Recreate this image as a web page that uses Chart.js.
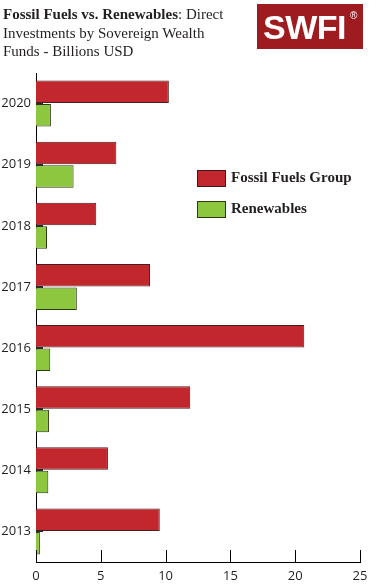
<!DOCTYPE html>
<html>
<head>
<meta charset="utf-8">
<script src="https://cdn.jsdelivr.net/npm/chart.js@4"></script>
<style>
  html, body { margin:0; padding:0; background:#fff; }
  #wrap { position:relative; width:377px; height:586px; overflow:hidden; }
  #chart { position:absolute; left:0; top:0; }
  #title { position:absolute; left:3px; top:5px; width:222px; font-family:"Liberation Serif", serif; font-size:15px; line-height:18.5px; color:#231f20; }
  #logo { position:absolute; left:257px; top:4px; width:106px; height:45px; background:#9e1b20; }
  #logo span.t { position:absolute; left:6px; top:4px; font-family:"Liberation Sans", Arial, sans-serif; font-weight:bold; font-size:34px; line-height:38px; color:#fff; letter-spacing:-0.5px; }
  #logo span.r { position:absolute; left:93px; top:6px; font-family:"Liberation Sans", Arial, sans-serif; font-size:10px; color:#fff; }
  .leg { position:absolute; left:197px; font-family:"Liberation Serif", serif; font-weight:bold; font-size:15px; color:#231f20; }
  .leg i { position:absolute; left:0; top:0; width:27px; height:15px; border:1px solid #3a1a1a; }
  .leg span { position:absolute; left:34px; top:-1px; white-space:nowrap; }
</style>
</head>
<body>
<div id="wrap">
  <canvas id="chart" width="377" height="586"></canvas>
  <div id="title"><b>Fossil Fuels vs. Renewables</b>: Direct Investments by Sovereign Wealth Funds - Billions USD</div>
  <div id="logo"><span class="t">SWFI</span><span class="r">®</span></div>
  <div class="leg" style="top:170px"><i style="background:#c1272d"></i><span>Fossil Fuels Group</span></div>
  <div class="leg" style="top:201px"><i style="background:#8dc63f;border-color:#2b3a12"></i><span>Renewables</span></div>
</div>
<script>
const years = ["2020", "2019", "2018", "2017", "2016", "2015", "2014", "2013"];
const fossilFuels = [10.25, 6.2, 4.65, 8.8, 20.7, 11.9, 5.55, 9.55];
const renewables = [1.15, 2.9, 0.85, 3.15, 1.1, 1.0, 0.95, 0.3];
const xTicks = [0, 5, 10, 15, 20, 25];

// ticks drawn inward like the original
const innerTicks = {
    id: "innerTicks",
    afterDraw(c) {
        const ctx = c.ctx, x = c.scales.x, y = c.scales.y;
        ctx.save();
        ctx.strokeStyle = "#000";
        ctx.lineWidth = 1;
        xTicks.forEach(v => {
            const px = Math.round(x.getPixelForValue(v)) + 0.5;
            ctx.beginPath();
            ctx.moveTo(px, y.bottom);
            ctx.lineTo(px, y.bottom - 12);
            ctx.stroke();
        });
        ctx.strokeStyle = "#2a2a2a";
        ctx.lineWidth = 2;
        years.forEach((yr, i) => {
            const py = Math.round(y.getPixelForValue(i));
            ctx.beginPath();
            ctx.moveTo(x.left, py);
            ctx.lineTo(x.left + 7, py);
            ctx.stroke();
        });
        ctx.restore();
    }
};

new Chart(document.getElementById("chart"), {
    type: "bar",
    data: {
        labels: years,
        datasets: [
            { label: "Fossil Fuels Group", data: fossilFuels, backgroundColor: "#c1272d", borderColor: "#4a1c1c", borderWidth: 1 },
            { label: "Renewables", data: renewables, backgroundColor: "#8dc63f", borderColor: "#2b3a12", borderWidth: 1 }
        ]
    },
    options: {
        indexAxis: "y",
        responsive: false,
        animation: false,
        categoryPercentage: 0.77,
        barPercentage: 0.96,
        layout: { padding: { top: 73, right: 17, left: 0, bottom: 0 } },
        plugins: { legend: { display: false }, tooltip: { enabled: false } },
        scales: {
            x: {
                min: 0, max: 25,
                afterBuildTicks: s => { s.ticks = xTicks.map(v => ({ value: v })); },
                afterFit: s => { s.height = 24; },
                grid: { display: false, drawTicks: false },
                border: { display: true, color: "#000", width: 1 },
                ticks: { color: "#231f20", font: { family: "Open Sans", size: 13 }, padding: 6, maxRotation: 0 }
            },
            y: {
                afterFit: s => { s.width = 36; },
                grid: { display: false, drawTicks: false },
                border: { display: true, color: "#000", width: 1 },
                ticks: { color: "#231f20", font: { family: "Open Sans", size: 13 }, padding: 5 }
            }
        }
    },
    plugins: [innerTicks]
});
</script>
</body>
</html>
